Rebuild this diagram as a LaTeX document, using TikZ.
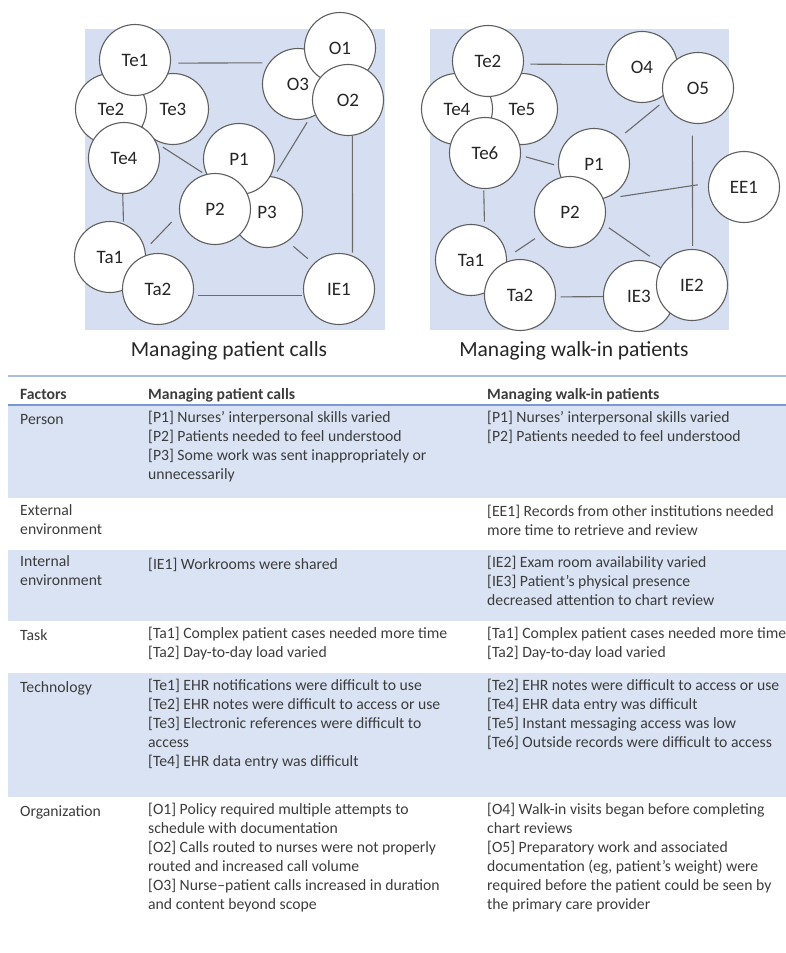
\documentclass[tikz,border=0pt]{standalone}
\usepackage{fontspec}
\setmainfont{Carlito}
\usepackage{xcolor}
\usepackage{tikz}
\definecolor{ink}{HTML}{262626}
\definecolor{body}{HTML}{3C3C3C}
\definecolor{ring}{HTML}{5F5F5F}
\definecolor{wire}{HTML}{6B6B6B}
\definecolor{panel}{HTML}{D6DFF1}
\definecolor{band}{HTML}{DAE3F3}
\definecolor{ruleA}{HTML}{A8BCE4}
\definecolor{ruleB}{HTML}{7A98D6}
\tikzset{
  fac/.style={circle, draw=ring, fill=white, line width=1.1pt, minimum size=71pt, inner sep=0pt, text=ink, font=\fontsize{19}{22}\selectfont},
  link/.style={draw=wire, line width=1.1pt},
  title/.style={text=ink, anchor=base, inner sep=0pt, font=\fontsize{21.5}{26}\selectfont},
  cell/.style={anchor=north west, align=left, inner sep=0pt, text=body, font=\fontsize{15.7}{19}\selectfont, execute at begin node=\strut},
  hdr/.style={cell, font=\fontsize{15.7}{19}\selectfont\bfseries},
}

\begin{document}
\begin{tikzpicture}[x=1pt,y=-1pt]
  \useasboundingbox (0,0) rectangle (786,953);
  \clip (0,0) rectangle (786,953);
  \fill[panel] (85,29) rectangle (385,330);
  \fill[panel] (430,29) rectangle (729,330);

  % managing patient calls
  \node[fac] (cTe3) at (173,109) {Te3};
  \node[fac] (cTe2) at (111,109) {Te2};
  \node[fac] (cTe1) at (135,60) {Te1};
  \node[fac] (cTe4) at (124,158) {Te4};
  \node[fac] (cO3) at (298,84) {O3};
  \node[fac] (cO1) at (340,48) {O1};
  \node[fac] (cO2) at (348,100) {O2};
  \node[fac] (cP3) at (267,212) {P3};
  \node[fac] (cP1) at (239,159) {P1};
  \node[fac] (cP2) at (215,209) {P2};
  \node[fac] (cTa1) at (110,257) {Ta1};
  \node[fac] (cTa2) at (158,289) {Ta2};
  \node[fac] (cIE1) at (339,289) {IE1};
  \draw[link, shorten <=7.5pt, shorten >=6.5pt] (cTe1.-5) -- (cO3.144);
  \draw[link, shorten <=7pt, shorten >=3.5pt] (cTe4.24) -- (cP2.106);
  \draw[link, shorten <=5pt, shorten >=6pt] (cO3.-71) -- (cP3.79);
  \draw[link, shorten >=2pt] (cTe4.-92) -- (cTa1.68);
  \draw[link, shorten <=11pt, shorten >=8pt] (cP2.188) -- (cTa1.12);
  \draw[link, shorten <=7.5pt, shorten >=7.5pt] (cP3.-55) -- (cIE1.135);
  \draw[link, shorten <=5pt, shorten >=2pt] (cTa2.-11) -- (cIE1.191);
  \draw[link, shorten >=3pt] (cO2.-83) -- (cIE1.68);
  \node[title] (capCalls) at (229,356) {Managing patient calls};

  % managing walk-in patients
  \node[fac] (wTe5) at (522,109) {Te5};
  \node[fac] (wTe4) at (457,109) {Te4};
  \node[fac] (wTe2) at (488,61) {Te2};
  \node[fac] (wTe6) at (485,153) {Te6};
  \node[fac] (wO4) at (642,67) {O4};
  \node[fac] (wO5) at (698,88) {O5};
  \node[fac] (wP1) at (594,164) {P1};
  \node[fac] (wP2) at (570,212) {P2};
  \node[fac] (wEE1) at (744,187) {EE1};
  \node[fac] (wTa1) at (471,260) {Ta1};
  \node[fac] (wTa2) at (520,295) {Ta2};
  \node[fac] (wIE3) at (639,296) {IE3};
  \node[fac] (wIE2) at (692,285) {IE2};
  \draw[link, shorten <=6.5pt, shorten >=1.5pt] (wTe2.-5) -- (wO4.176);
  \draw[link, shorten <=6.5pt, shorten >=8pt] (wO5.201) -- (wP1.46);
  \draw[link, shorten <=5pt, shorten >=4pt] (wTe6.-4) -- (wP1.183);
  \draw[link, shorten <=17pt, shorten >=10.5pt] (wP2.21) -- (wEE1.174);
  \draw[link, shorten <=12pt, shorten >=3pt] (wO5.-99) -- (wIE2.89);
  \draw[link, shorten <=1.5pt, shorten >=5pt] (wTe6.-92) -- (wTa1.68);
  \draw[link, shorten <=8pt, shorten >=10pt] (wP2.218) -- (wTa1.4);
  \draw[link, shorten <=6pt, shorten >=15pt] (wP2.-20) -- (wIE2.146);
  \draw[link, shorten <=4.5pt] (wTa2.-3) -- (wIE3.181);
  \node[title] (capWalk) at (574,356) {Managing walk-in patients};

  % table
  \fill[band] (8,405) rectangle (786,498);
  \fill[band] (8,550) rectangle (786,621);
  \fill[band] (8,673) rectangle (786,797);
  \draw[ruleA, line width=2.5pt] (8,376) -- (786,376);
  \draw[ruleB, line width=2pt] (8,405) -- (786,405);

  \node[hdr] (facHead) at (20,385.7) {Factors};
  \node[hdr] (callHead) at (148,385.7) {Managing patient calls};
  \node[hdr] (walkHead) at (487,385.7) {Managing walk-in patients};

  \node[cell] (facPerson) at (20,410.7) {Person};
  \node[cell] (callPerson) at (148,410.7) {{[P1]} Nurses’ interpersonal skills varied\\
    {[P2]} Patients needed to feel understood\\
    {[P3]} Some work was sent inappropriately or\\
    unnecessarily};
  \node[cell] (walkPerson) at (487,410.7) {{[P1]} Nurses’ interpersonal skills varied\\
    {[P2]} Patients needed to feel understood};

  \node[cell] (facExt) at (20,504.7) {External\\environment};
  \node[cell] (walkExt) at (487,504.7) {{[EE1]} Records from other institutions needed\\
    more time to retrieve and review};

  \node[cell] (facInt) at (20,555.7) {Internal\\environment};
  \node[cell] (callInt) at (148,555.7) {{[IE1]} Workrooms were shared};
  \node[cell] (walkInt) at (487,555.7) {{[IE2]} Exam room availability varied\\
    {[IE3]} Patient’s physical presence\\
    decreased attention to chart review};

  \node[cell] (facTask) at (20,627.2) {Task};
  \node[cell] (callTask) at (148,627.2) {{[Ta1]} Complex patient cases needed more time\\
    {[Ta2]} Day-to-day load varied};
  \node[cell] (walkTask) at (487,627.2) {{[Ta1]} Complex patient cases needed more time\\
    {[Ta2]} Day-to-day load varied};

  \node[cell] (facTech) at (20,678.7) {Technology};
  \node[cell] (callTech) at (148,678.7) {{[Te1]} EHR notifications were difficult to use\\
    {[Te2]} EHR notes were difficult to access or use\\
    {[Te3]} Electronic references were difficult to\\
    access\\
    {[Te4]} EHR data entry was difficult};
  \node[cell] (walkTech) at (487,678.7) {{[Te2]} EHR notes were difficult to access or use\\
    {[Te4]} EHR data entry was difficult\\
    {[Te5]} Instant messaging access was low\\
    {[Te6]} Outside records were difficult to access};

  \node[cell] (facOrg) at (20,803.2) {Organization};
  \node[cell] (callOrg) at (148,803.2) {{[O1]} Policy required multiple attempts to\\
    schedule with documentation\\
    {[O2]} Calls routed to nurses were not properly\\
    routed and increased call volume\\
    {[O3]} Nurse–patient calls increased in duration\\
    and content beyond scope};
  \node[cell] (walkOrg) at (487,803.2) {{[O4]} Walk-in visits began before completing\\
    chart reviews\\
    {[O5]} Preparatory work and associated\\
    documentation (eg, patient’s weight) were\\
    required before the patient could be seen by\\
    the primary care provider};
\end{tikzpicture}
\end{document}
